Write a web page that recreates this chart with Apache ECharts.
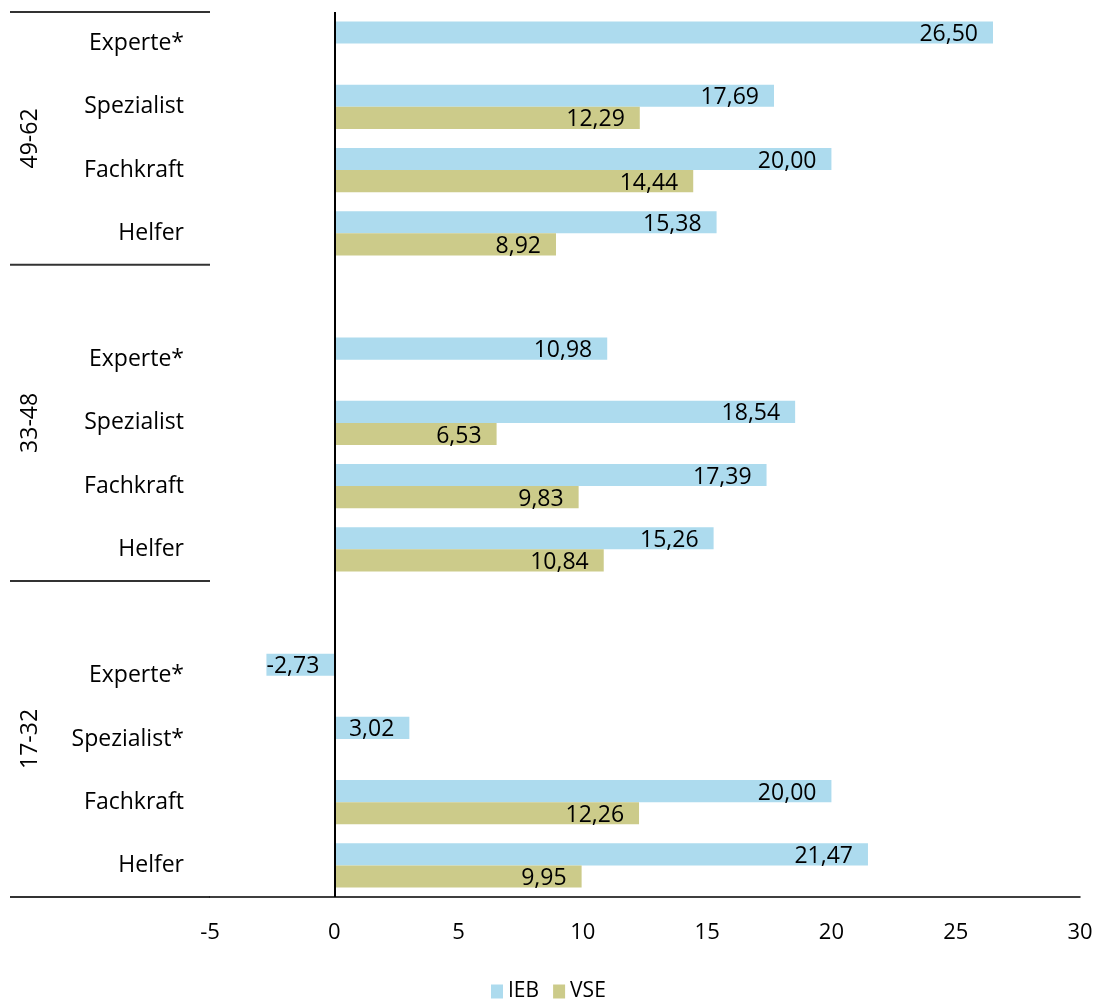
<!DOCTYPE html>
<html><head><meta charset="utf-8">
<script src="https://cdn.jsdelivr.net/npm/echarts@6/dist/echarts.min.js"></script>
<style>html,body{margin:0;padding:0;background:#fff}#c{width:1100px;height:1001px}</style>
</head><body><div id="c"></div>
<script>
// categories listed top to bottom ('' = spacer row)
const categories = ['Experte*','Spezialist','Fachkraft','Helfer','',
                    'Experte*','Spezialist','Fachkraft','Helfer','',
                    'Experte*','Spezialist*','Fachkraft','Helfer'];
const groupLabels = ['49-62','33-48','17-32'];
const groupFirstIndex = [0, 4, 9];
const groupLastIndex = [3, 8, 13];
const iebValues = [26.50, 17.69, 20.00, 15.38, null,
                   10.98, 18.54, 17.39, 15.26, null,
                   -2.73, 3.02, 20.00, 21.47];
const vseValues = [null, 12.29, 14.44, 8.92, null,
                   null, 6.53, 9.83, 10.84, null,
                   null, null, 12.26, 9.95];
const xMin = -5, xMax = 30, xInterval = 5;

const FONT = 'Open Sans';
const FS = 23;
const chart = echarts.init(document.getElementById('c'));
const fmt = v => v.toFixed(2).replace('.', ',');
const labelOpt = {
  show: true, position: 'insideRight', distance: 15, offset: [0, 2], color: '#000',
  fontSize: FS, fontFamily: FONT,
  formatter: p => (p.value == null ? '' : fmt(p.value))
};
chart.setOption({
  animation: false,
  grid: {left: 210, right: 20, top: 12, bottom: 104},
  xAxis: {
    type: 'value', min: xMin, max: xMax, interval: xInterval,
    axisLine: {show: true, onZero: false, lineStyle: {color: '#000', width: 1.5}},
    axisTick: {show: false}, splitLine: {show: false},
    axisLabel: {color: '#000', fontSize: 22, fontFamily: FONT, margin: 25}
  },
  yAxis: {
    type: 'category', inverse: true, data: categories,
    axisLine: {show: false, onZero: false}, axisTick: {show: false},
    axisLabel: {color: '#000', fontSize: FS, fontFamily: FONT, margin: 26}
  },
  legend: {
    data: ['IEB', 'VSE'], top: 976, left: 486, icon: 'rect',
    itemWidth: 12, itemHeight: 14, itemGap: 14,
    textStyle: {color: '#000', fontSize: 21, fontFamily: FONT}
  },
  series: [
    {name: 'IEB', type: 'bar', data: iebValues, barGap: '0%', barCategoryGap: '30%',
     itemStyle: {color: '#ADDBEE'}, label: labelOpt,
     markLine: {silent: true, symbol: 'none', label: {show: false},
       lineStyle: {color: '#000', width: 2, type: 'solid'}, data: [{xAxis: 0}]}},
    {name: 'VSE', type: 'bar', data: vseValues, barGap: '0%', barCategoryGap: '30%',
     itemStyle: {color: '#CCCB8A'}, label: labelOpt}
  ]
});

// group separators and group labels, positioned via the axis scale
const c0 = chart.convertToPixel({yAxisIndex: 0}, 0);
const c1 = chart.convertToPixel({yAxisIndex: 0}, 1);
const band = c1 - c0;
const xLeftEdge = chart.convertToPixel({xAxisIndex: 0}, xMin);
const elements = [];
const sepStyle = {stroke: '#333', lineWidth: 2};
groupLabels.forEach((g, i) => {
  const top = chart.convertToPixel({yAxisIndex: 0}, groupFirstIndex[i]) - band / 2;
  const bottom = chart.convertToPixel({yAxisIndex: 0}, groupLastIndex[i]) + band / 2;
  elements.push({type: 'line', shape: {x1: 10, y1: top, x2: xLeftEdge, y2: top}, style: sepStyle, silent: true});
  if (i === groupLabels.length - 1) {
    elements.push({type: 'line', shape: {x1: 10, y1: bottom, x2: xLeftEdge, y2: bottom}, style: sepStyle, silent: true});
  }
  elements.push({type: 'text', x: 30, y: (top + bottom) / 2, rotation: Math.PI / 2,
    style: {text: g, font: FS + 'px "' + FONT + '"', fill: '#000', align: 'center', verticalAlign: 'middle'}, silent: true});
});
chart.setOption({graphic: elements});
</script></body></html>
